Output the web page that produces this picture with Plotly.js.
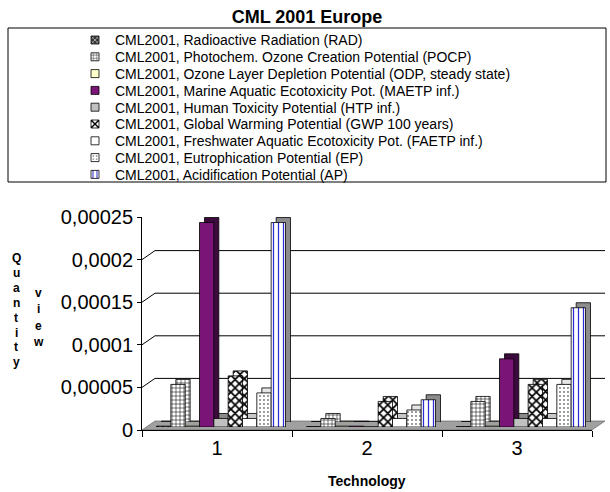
<!DOCTYPE html>
<html><head><meta charset="utf-8">
<script src="https://cdn.plot.ly/plotly-3.0.1.min.js"></script>
<style>html,body{margin:0;padding:0;background:#fff}</style>
</head><body><div id="chart" style="width:610px;height:492px"></div>
<script>
// ---------- data ----------
const categories = ['1', '2', '3'];
const seriesNames = [
  'CML2001, Radioactive Radiation (RAD)',
  'CML2001, Photochem. Ozone Creation Potential (POCP)',
  'CML2001, Ozone Layer Depletion Potential (ODP, steady state)',
  'CML2001, Marine Aquatic Ecotoxicity Pot. (MAETP inf.)',
  'CML2001, Human Toxicity Potential (HTP inf.)',
  'CML2001, Global Warming Potential (GWP 100 years)',
  'CML2001, Freshwater Aquatic Ecotoxicity Pot. (FAETP inf.)',
  'CML2001, Eutrophication Potential (EP)',
  'CML2001, Acidification Potential (AP)'
];
const RAD   = [0.000001, 0.0000005, 0.0000005];
const POCP  = [0.00005, 0.00001, 0.00003];
const ODP   = [0.000001, 0.000001, 0.000001];
const MAETP = [0.00024, 0.000001, 0.00008];
const HTP   = [0.00001, 0.0000002, 0.00001];
const GWP   = [0.00006, 0.00003, 0.00005];
const FAETP = [0.00001, 0.00001, 0.00001];
const EP    = [0.00004, 0.00002, 0.00005];
const AP    = [0.00024, 0.000032, 0.00014];
const seriesValues = [RAD, POCP, ODP, MAETP, HTP, GWP, FAETP, EP, AP];
const yTickVals = [0, 0.00005, 0.0001, 0.00015, 0.0002, 0.00025];
const yTickText = ['0', '0,00005', '0,0001', '0,00015', '0,0002', '0,00025'];
const yRange = [0, 0.00025];
const chartTitle = 'CML 2001 Europe';
const xTitle = 'Technology';
const yTitleCol1 = 'Quantity';
const yTitleCol2 = 'view';

// ---------- styles ----------
const FONT = 'Liberation Sans, Arial, Helvetica, sans-serif';
const frontStyles = [
  {color:'#333333', pattern:{shape:'x', fgcolor:'#ffffff', bgcolor:'#333333', size:4, solidity:0.3}},
  {color:'#ffffff', pattern:{shape:'+', fgcolor:'#000000', bgcolor:'#ffffff', size:4, solidity:0.25}},
  {color:'#ffffcc'},
  {color:'#7a1577'},
  {color:'#c0c0c0'},
  {color:'#ffffff', pattern:{shape:'x', fgcolor:'#000000', bgcolor:'#ffffff', size:6, solidity:0.5}},
  {color:'#ffffff'},
  {color:'#ffffff', pattern:{shape:'.', fgcolor:'#000000', bgcolor:'#ffffff', size:4, solidity:0.1}},
  {color:'#ffffff', pattern:{shape:'|', fgcolor:'#2b2bd1', bgcolor:'#ffffff', size:5, solidity:0.25}}
];
const sideStyles = [
  {color:'#666666'},
  {color:'#ffffff', pattern:{shape:'+', fgcolor:'#000000', bgcolor:'#ffffff', size:4, solidity:0.25}},
  {color:'#d8d8a0'},
  {color:'#3d0a3d'},
  {color:'#8a8a8a'},
  {color:'#ffffff', pattern:{shape:'x', fgcolor:'#000000', bgcolor:'#ffffff', size:6, solidity:0.5}},
  {color:'#c8c8c8'},
  {color:'#e6e6e6'},
  {color:'#8c8c8c'}
];

// ---------- geometry (pixels) ----------
const W = 610, H = 492, ML = 142, MR = 5, MT = 208, MB = 62;
const PW = W - ML - MR, PH = H - MT - MB;
const FW = 450, FH = 213;          // front axis frame
const BAR_D = [4, 3], SIDE_D = [9, 8], WALL_D = [13, 9];
const px = x => (x - ML) / PW;
const py = y => (H - MB - y) / PH;
const dom = (d, full, span) => [d / full, (d + span) / full];

// ---------- traces ----------
const traces = [];
seriesValues.forEach((vals, i) => {
  traces.push({
    type:'bar', x:categories, y:vals, name:seriesNames[i], showlegend:false,
    xaxis:'x', yaxis:'y', hoverinfo:'skip',
    marker:Object.assign({line:{color:'#000', width:0.8}}, sideStyles[i])
  });
});
seriesValues.forEach((vals, i) => {
  traces.push({
    type:'bar', x:categories, y:vals, name:seriesNames[i],
    xaxis:'x2', yaxis:'y2', hoverinfo:'skip',
    marker:Object.assign({line:{color:'#000', width:0.8}}, frontStyles[i])
  });
});
traces.push({type:'scatter', mode:'markers', x:categories, y:categories.map(() => 0),
  xaxis:'x3', yaxis:'y3', marker:{opacity:0}, showlegend:false, hoverinfo:'skip'});

// ---------- decorations ----------
const shapes = [];
const vToFront = v => H - MB - (v - yRange[0]) / (yRange[1] - yRange[0]) * FH;
// floor
shapes.push({type:'path', xref:'paper', yref:'paper', layer:'below',
  path:`M${px(ML)},${py(H-MB)} L${px(ML+FW)},${py(H-MB)} L${px(ML+FW+WALL_D[0])},${py(H-MB-WALL_D[1])} L${px(ML+WALL_D[0])},${py(H-MB-WALL_D[1])} Z`,
  fillcolor:'#a0a0a0', line:{color:'#555', width:0.6}});
yTickVals.forEach(v => {
  if (v <= yRange[0] || v >= yRange[1]) return;
  const fy = vToFront(v), by = fy - WALL_D[1];
  shapes.push({type:'line', xref:'paper', yref:'paper', layer:'below',
    x0:px(ML+WALL_D[0]), x1:px(ML+FW+WALL_D[0]), y0:py(by), y1:py(by), line:{color:'#000', width:1}});
  shapes.push({type:'line', xref:'paper', yref:'paper', layer:'below',
    x0:px(ML), x1:px(ML+WALL_D[0]), y0:py(fy), y1:py(by), line:{color:'#000', width:1}});
});
// legend frame
shapes.push({type:'rect', xref:'paper', yref:'paper', layer:'below',
  x0:px(8), x1:px(606), y0:py(182), y1:py(28), line:{color:'#000', width:1}, fillcolor:'rgba(0,0,0,0)'});

const annotations = [];
const L1 = {x:16, y0:258, step:14.9}, L2 = {x:38, y0:293, step:16.3};
yTitleCol1.split('').forEach((ch, i) => annotations.push({text:ch, xref:'paper', yref:'paper',
  x:px(L1.x), y:py(L1.y0 + i*L1.step), showarrow:false, xanchor:'center', yanchor:'middle',
  font:{family:FONT, size:12, weight:'bold', color:'#000'}}));
yTitleCol2.split('').forEach((ch, i) => annotations.push({text:ch, xref:'paper', yref:'paper',
  x:px(L2.x), y:py(L2.y0 + i*L2.step), showarrow:false, xanchor:'center', yanchor:'middle',
  font:{family:FONT, size:12, weight:'bold', color:'#000'}}));
annotations.push({text:xTitle, xref:'paper', yref:'paper', x:px(367), y:py(481), showarrow:false,
  xanchor:'center', yanchor:'middle', font:{family:FONT, size:14, weight:'bold', color:'#000'}});

const hidden = (d, r, extra) => Object.assign({visible:false, domain:d, range:r, fixedrange:true}, extra||{});
const layout = {
  width:W, height:H, margin:{l:ML, r:MR, t:MT, b:MB, pad:0},
  paper_bgcolor:'#fff', plot_bgcolor:'rgba(0,0,0,0)',
  font:{family:FONT, color:'#000'},
  title:{text:chartTitle, x:307/W, xanchor:'center', y:1-17/H, yanchor:'middle',
    font:{family:FONT, size:18, weight:'bold', color:'#000'}},
  barmode:'group', bargap:0.14, bargroupgap:0,
  showlegend:true,
  legend:{x:px(75), xanchor:'left', y:py(28), yanchor:'top', bgcolor:'rgba(0,0,0,0)', borderwidth:0,
    font:{family:FONT, size:14, color:'#000'}, traceorder:'normal'},
  xaxis: hidden(dom(SIDE_D[0], PW, FW), [-0.5, 2.5], {type:'category', anchor:'y'}),
  yaxis: hidden(dom(SIDE_D[1], PH, FH), yRange, {anchor:'x'}),
  xaxis2: hidden(dom(BAR_D[0], PW, FW), [-0.5, 2.5], {type:'category', anchor:'y2'}),
  yaxis2: hidden(dom(BAR_D[1], PH, FH), yRange, {anchor:'x2'}),
  xaxis3:{domain:dom(0, PW, FW), range:[-0.5, 2.5], type:'category', anchor:'y3',
    showline:true, linecolor:'#000', linewidth:1, showgrid:false, zeroline:false,
    ticks:'outside', tickson:'boundaries', ticklen:6, tickcolor:'#000',
    tickfont:{family:FONT, size:20, color:'#000'}, fixedrange:true},
  yaxis3:{domain:dom(0, PH, FH), range:yRange, anchor:'x3',
    showline:true, linecolor:'#000', linewidth:1, showgrid:false, zeroline:false,
    ticks:'outside', ticklen:4, tickcolor:'#000', tickvals:yTickVals, ticktext:yTickText,
    tickfont:{family:FONT, size:20, color:'#000'}, fixedrange:true},
  shapes:shapes, annotations:annotations
};

Plotly.newPlot('chart', traces, layout, {staticPlot:true, displayModeBar:false}).then(gd => {
  const ROW = 16.8, FIRST = 12;
  gd.querySelectorAll('.legend .traces').forEach((g, i) => {
    const m = /translate\(\s*([-\d.e]+)/.exec(g.getAttribute('transform') || '');
    const tx = m ? m[1] : 0;
    g.setAttribute('transform', `translate(${tx},${FIRST + i*ROW})`);
  });
  gd.querySelectorAll('.legend .legendpoints path').forEach(p => p.setAttribute('d', 'M4,4H-4V-4H4Z'));
});
</script></body></html>
